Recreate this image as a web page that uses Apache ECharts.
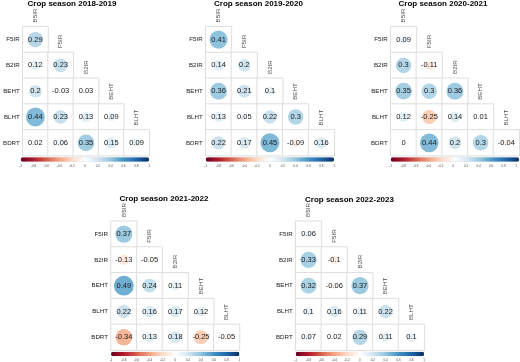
<!DOCTYPE html>
<html>
<head>
<meta charset="utf-8">
<script src="https://cdn.jsdelivr.net/npm/echarts@6/dist/echarts.min.js"></script>
<style>
  html, body { margin: 0; padding: 0; background: #fff; }
  #chart { width: 520px; height: 362px; }
</style>
</head>
<body>
<div id="chart"></div>
<script>
// ---- data ----
const rowNames = ['F5IR', 'B2IR', 'BEHT', 'BLHT', 'BDRT'];
const colNames = ['B5IR', 'F5IR', 'B2IR', 'BEHT', 'BLHT'];
const yCategories = [''].concat(rowNames); // blank top row holds the first column label
const titles = ['Crop season 2018-2019', 'Crop season 2019-2020', 'Crop season 2020-2021',
                'Crop season 2021-2022', 'Crop season 2022-2023'];

const season2018 = [[0.29], [0.12, 0.23], [0.2, -0.03, 0.03], [0.44, 0.23, 0.13, 0.09], [0.02, 0.06, 0.35, 0.15, 0.09]];
const season2019 = [[0.41], [0.14, 0.2], [0.36, 0.21, 0.1], [0.13, 0.05, 0.22, 0.3], [0.22, 0.17, 0.45, -0.09, 0.16]];
const season2020 = [[0.09], [0.3, -0.11], [0.35, 0.3, 0.36], [0.12, -0.25, 0.14, 0.01], [0, 0.44, 0.2, 0.3, -0.04]];
const season2021 = [[0.37], [-0.13, -0.05], [0.49, 0.24, 0.11], [0.22, 0.16, 0.17, 0.12], [-0.34, 0.13, 0.18, -0.25, -0.05]];
const season2022 = [[0.06], [0.33, -0.1], [0.32, -0.06, 0.37], [0.1, 0.16, 0.11, 0.22], [0.07, 0.02, 0.29, 0.11, 0.1]];
const seasons = [season2018, season2019, season2020, season2021, season2022];

const colorbarMin = -1, colorbarMax = 1, colorbarStep = 0.2;
const rdBu = ['#67001F', '#B2182B', '#D6604D', '#F4A582', '#FDDBC7', '#FFFFFF',
              '#D1E5F0', '#92C5DE', '#4393C3', '#2166AC', '#053061'];

// ---- layout ----
const cellW = 25.7, cellH = 25.8;
const panels = [
  { left: 20.7,  top: 26.7,  titleX: 72,    titleY: 0 },
  { left: 205.7, top: 26.7,  titleX: 258.5, titleY: 0 },
  { left: 390.7, top: 26.7,  titleX: 443,   titleY: 0 },
  { left: 111,   top: 221.2, titleX: 164,   titleY: 195 },
  { left: 295.7, top: 221.2, titleX: 349.5, titleY: 195.3 }
];
const FONT = '"Liberation Sans", Arial, Helvetica, sans-serif';

const option = {
  animation: false,
  backgroundColor: '#ffffff',
  title: [], grid: [], xAxis: [], yAxis: [], series: [], visualMap: []
};

seasons.forEach((vals, p) => {
  const P = panels[p];
  const gMain = option.grid.length;
  option.title.push({
    text: titles[p], left: P.titleX, top: P.titleY, textAlign: 'center', padding: 0,
    textStyle: { fontFamily: FONT, fontSize: 8, fontWeight: 'bold', color: '#000' }
  });

  // main matrix grid (6 rows: blank top row + 5 variables)
  option.grid.push({ left: P.left, top: P.top - cellH, width: 5 * cellW, height: 6 * cellH, containLabel: false });
  option.xAxis.push({
    type: 'category', gridIndex: gMain, data: colNames,
    axisLine: { show: false }, axisTick: { show: false }, axisLabel: { show: false }, splitLine: { show: false }
  });
  option.yAxis.push({
    type: 'category', gridIndex: gMain, data: yCategories, inverse: true,
    axisLine: { show: false }, axisTick: { show: false }, splitLine: { show: false },
    axisLabel: { fontFamily: FONT, fontSize: 6.2, color: '#1a1a1a', margin: 3 }
  });

  const cells = [];
  vals.forEach((row, i) => row.forEach((v, j) => cells.push([j, i + 1, v])));

  // cell frames
  option.series.push({
    type: 'heatmap', xAxisIndex: gMain, yAxisIndex: gMain, data: cells, silent: true,
    itemStyle: { color: '#ffffff', borderColor: '#dedede', borderWidth: 1 },
    label: { show: false }, emphasis: { disabled: true }
  });
  // circles + coefficient text
  const circleIdx = option.series.length;
  option.series.push({
    type: 'scatter', xAxisIndex: gMain, yAxisIndex: gMain, data: cells, silent: true,
    symbol: 'circle',
    symbolSize: d => Math.sqrt(Math.abs(d[2])) * 1.1 * cellW,
    itemStyle: { opacity: 1 },
    label: {
      show: true, position: 'inside', formatter: prm => String(prm.value[2]),
      fontFamily: FONT, fontSize: 7.5, color: '#1a1a1a'
    },
    emphasis: { disabled: true }
  });
  // staircase column labels
  option.series.push({
    type: 'scatter', xAxisIndex: gMain, yAxisIndex: gMain, silent: true,
    data: colNames.map((n, j) => [j, j]),
    symbolSize: 0,
    label: {
      show: true, position: 'inside', rotate: 90, align: 'left', verticalAlign: 'middle',
      offset: [-8.6, 0],
      formatter: prm => colNames[prm.value[0]],
      fontFamily: FONT, fontSize: 6.2, color: '#1a1a1a'
    },
    emphasis: { disabled: true }
  });

  // colour bar
  const barTop = P.top + 5 * cellH + 1.5;
  option.visualMap.push({
    type: 'continuous', seriesIndex: circleIdx, dimension: 2,
    min: colorbarMin, max: colorbarMax, orient: 'horizontal',
    left: P.left, top: barTop, itemWidth: 4.5, itemHeight: 5 * cellW,
    calculable: false, hoverLink: false, realtime: false, padding: 0,
    text: null, showLabel: false, textGap: 0,
    inRange: { color: rdBu }
  });
  // colour bar tick labels
  const gBar = option.grid.length;
  option.grid.push({ left: P.left, top: barTop + 4.5, width: 5 * cellW, height: 1 });
  option.xAxis.push({
    type: 'value', gridIndex: gBar, min: colorbarMin, max: colorbarMax, interval: colorbarStep,
    axisLine: { show: false }, axisTick: { show: false }, splitLine: { show: false },
    axisLabel: {
      fontFamily: FONT, fontSize: 3, color: '#444', margin: 1.5,
      formatter: v => String(parseFloat(v.toFixed(1)))
    }
  });
  option.yAxis.push({ type: 'value', gridIndex: gBar, show: false, min: 0, max: 1 });
});

const chart = echarts.init(document.getElementById('chart'), null, { renderer: 'canvas' });
chart.setOption(option);
</script>
</body>
</html>
